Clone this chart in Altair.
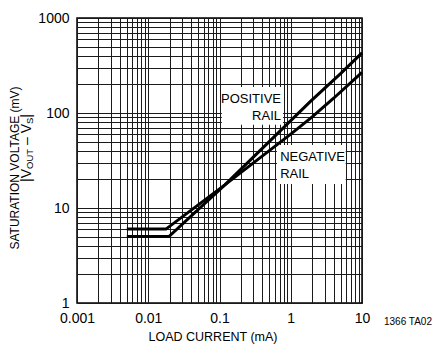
import altair as alt
import pandas as pd

FONT = "Liberation Sans Narrow, Arial Narrow, Liberation Sans, sans-serif"

# Load current (mA) vs. saturation voltage |VOUT - VS| (mV) for each output rail
pos_current = [0.005, 0.0195, 0.119, 1.0, 1.86, 5.0, 10.0]
pos_voltage = [5.0, 5.0, 17.5, 83.0, 131.0, 260.0, 430.0]
neg_current = [0.005, 0.0177, 0.119, 1.0, 2.0, 4.0, 10.0]
neg_voltage = [6.0, 6.0, 17.5, 60.0, 91.0, 143.0, 268.0]

# Grid positions (every 1..9 step of each decade)
x_grid = [0.001, 0.002, 0.003, 0.004, 0.005, 0.006, 0.007, 0.008, 0.009,
          0.01, 0.02, 0.03, 0.04, 0.05, 0.06, 0.07, 0.08, 0.09,
          0.1, 0.2, 0.3, 0.4, 0.5, 0.6, 0.7, 0.8, 0.9,
          1, 2, 3, 4, 5, 6, 7, 8, 9, 10]
y_grid = [1, 2, 3, 4, 5, 6, 7, 8, 9,
          10, 20, 30, 40, 50, 60, 70, 80, 90,
          100, 200, 300, 400, 500, 600, 700, 800, 900, 1000]

# Only decades carry a label
DECADE_LABEL = ("abs(log(datum.value)/LN10 - round(log(datum.value)/LN10)) < 0.001"
                " ? format(datum.value, '~g') : ''")

curves = pd.concat([
    pd.DataFrame({"current": pos_current, "voltage": pos_voltage, "rail": "POSITIVE"}),
    pd.DataFrame({"current": neg_current, "voltage": neg_voltage, "rail": "NEGATIVE"}),
])

x_scale = alt.Scale(type="log", domain=[0.001, 10], nice=False)
y_scale = alt.Scale(type="log", domain=[1, 1000], nice=False)

common_axis = dict(grid=True, ticks=False, domain=False, gridColor="#1a1a1a",
                   gridWidth=1, gridOpacity=1, labelFont=FONT, labelFontSize=14,
                   labelColor="black", labelOverlap=False, labelFlush=False,
                   labelExpr=DECADE_LABEL)

x_enc = alt.X("current:Q", scale=x_scale,
              axis=alt.Axis(values=x_grid, title="LOAD CURRENT (mA)",
                            titleFont=FONT, titleFontSize=12.5,
                            titleFontWeight="normal", titleColor="black",
                            titleX=135.5, titleAlign="center",
                            labelPadding=8, titlePadding=5, **common_axis))
y_enc = alt.Y("voltage:Q", scale=y_scale,
              axis=alt.Axis(values=y_grid, title=None, labelPadding=8,
                            **common_axis))

lines = alt.Chart(curves).mark_line(color="black", strokeWidth=3).encode(
    x=x_enc, y=y_enc, detail="rail:N"
)

# White panels behind the rail labels
boxes = pd.DataFrame({
    "x0": [0.108, 0.64], "x1": [0.78, 5.9],
    "y0": [75.0, 17.9], "y1": [188.0, 46.0],
})
label_boxes = alt.Chart(boxes).mark_rect(color="white").encode(
    x="x0:Q", x2="x1:Q", y="y0:Q", y2="y1:Q"
)

pos_labels = pd.DataFrame({"text": ["POSITIVE", "RAIL"],
                           "current": [0.73, 0.73], "voltage": [140.0, 91.9]})
neg_labels = pd.DataFrame({"text": ["NEGATIVE", "RAIL"],
                           "current": [0.71, 0.71], "voltage": [34.8, 22.8]})

pos_text = alt.Chart(pos_labels).mark_text(
    align="right", baseline="middle", font=FONT, fontSize=13, color="black"
).encode(x="current:Q", y="voltage:Q", text="text:N")
neg_text = alt.Chart(neg_labels).mark_text(
    align="left", baseline="middle", font=FONT, fontSize=13, color="black"
).encode(x="current:Q", y="voltage:Q", text="text:N")


def note(text, x, y, size, align="center", angle=0):
    return alt.Chart(pd.DataFrame({"t": [text]})).mark_text(
        text=text, align=align, baseline="middle", angle=angle,
        font=FONT, fontSize=size, color="black"
    ).encode(x=alt.value(x), y=alt.value(y))


# Vertical axis title: two lines, the second set piece by piece for subscripts
ytitle = [
    note("SATURATION VOLTAGE (mV)", -62, 150, 12, angle=270),
    note("|V", -50, 164, 14, align="left", angle=270),
    note("OUT", -47, 151.0, 9.5, align="left", angle=270),
    note("\u2013", -50, 127.0, 14, align="left", angle=270),
    note("V", -50, 115.3, 14, align="left", angle=270),
    note("S", -47, 106.0, 9.5, align="left", angle=270),
    note("|", -50, 99.7, 14, align="left", angle=270),
]

footer = note("1366 TA02", 355, 304, 10, align="right")

chart = alt.layer(
    label_boxes, lines, pos_text, neg_text, *ytitle, footer
).properties(
    width=285, height=285,
    padding={"left": 77, "top": 18, "right": 71, "bottom": 44},
    autosize=alt.AutoSizeParams(type="none"),
    background="white",
).configure_view(
    stroke="black", strokeWidth=1.5
)

chart.save("out.html", embed_options={"renderer": "svg", "actions": False})
